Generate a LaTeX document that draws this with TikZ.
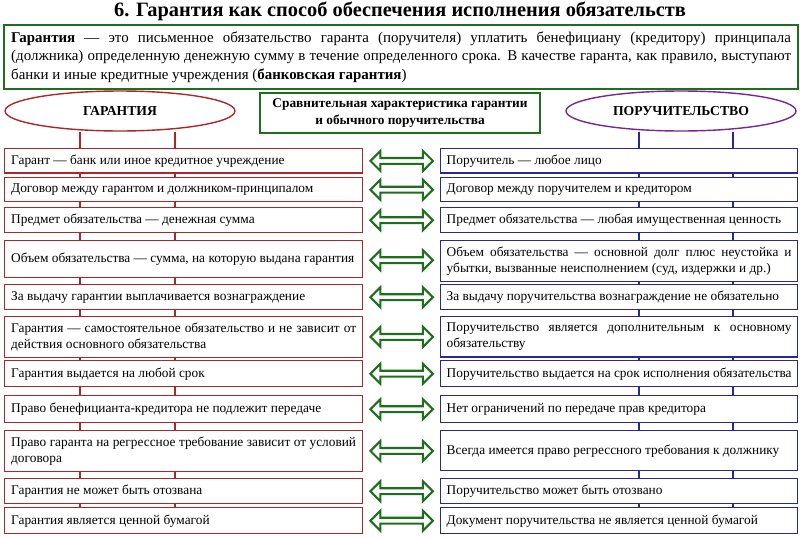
\documentclass[tikz,border=0pt]{standalone}
\usepackage{fontspec}
\setmainfont{Liberation Serif}
\usetikzlibrary{positioning, shapes.geometric, shapes.arrows, calc}
\definecolor{grn}{RGB}{30,110,30}
\definecolor{dred}{RGB}{170,40,40}
\definecolor{navy}{RGB}{40,40,150}
\definecolor{purp}{RGB}{120,40,140}
\tikzset{
  lbox/.style={draw=dred, thick, fill=white, anchor=north west, minimum width=7.16cm, text width=6.9cm, align=justify, font=\fontsize{7.6}{9.4}\selectfont, inner sep=0.12cm},
  rbox/.style={draw=navy, thick, fill=white, anchor=north west, minimum width=7.14cm, text width=6.9cm, align=justify, font=\fontsize{7.6}{9.4}\selectfont, inner sep=0.12cm},
  darr/.style={double arrow, draw=grn, very thick, fill=white, minimum height=1.25cm, minimum width=0.4cm, double arrow head extend=0.1cm, inner sep=0.02cm},
}
\begin{document}
\begin{tikzpicture}[x=0.02cm, y=-0.02cm]
  \useasboundingbox (0,0) rectangle (800,537);
  % заголовок
  \node[font=\fontsize{11.6}{13}\selectfont\bfseries] (title) at (400,11) {6. Гарантия как способ обеспечения исполнения обязательств};
  \node[draw=grn, line width=1.4pt, anchor=north west, minimum width=15.88cm, minimum height=1.28cm, text width=15.6cm, align=justify, font=\fontsize{8.5}{10.6}\selectfont, inner sep=0.12cm] (def) at (3,24)
    {\textbf{Гарантия} — это письменное обязательство гаранта (поручителя) уплатить бенефициану (кредитору) принципала (должника) определенную денежную сумму в течение определенного срока. В качестве гаранта, как правило, выступают банки и иные кредитные учреждения (\textbf{банковская гарантия})};
  % шапка
  \node[ellipse, draw=dred, thick, minimum width=4.6cm, minimum height=0.8cm, font=\fontsize{7.8}{9}\selectfont\bfseries] (gar) at (120,111) {ГАРАНТИЯ};
  \node[ellipse, draw=purp, thick, minimum width=4.6cm, minimum height=0.8cm, font=\fontsize{7.8}{9}\selectfont\bfseries] (por) at (681,111) {ПОРУЧИТЕЛЬСТВО};
  \node[draw=grn, line width=1.4pt, minimum width=5.6cm, minimum height=0.78cm, align=center, font=\fontsize{7.6}{9.2}\selectfont\bfseries] (cmp) at (400,113)
    {Сравнительная характеристика гарантии\\ и обычного поручительства};
  % линии связи
  \draw[dred, thick] ($(gar.south)+(-40,0)$) -- (80,510);
  \draw[dred, thick] ($(gar.south)+(55,0)$) -- (175,510);
  \draw[navy, thick] ($(por.south)+(-42,0)$) -- (639,510);
  \draw[navy, thick] ($(por.south)+(52,0)$) -- (733,510);
  % строки
  \foreach \i/\t/\h/\l/\r in {
    1/148/24/{Гарант — банк или иное кредитное учреждение}/{Поручитель — любое лицо},
    2/177/24/{Договор между гарантом и должником-принципалом}/{Договор между поручителем и кредитором},
    3/207/25/{Предмет обязательства — денежная сумма}/{Предмет обязательства — любая имущественная ценность},
    4/240/37/{Объем обязательства — сумма, на которую выдана гарантия}/{Объем обязательства — основной долг плюс неустойка и убытки, вызванные неисполнением (суд, издержки и др.)},
    5/284/25/{За выдачу гарантии выплачивается вознаграждение}/{За выдачу поручительства вознаграждение не обязательно},
    6/316/37/{Гарантия — самостоятельное обязательство и не зависит от действия основного обязательства}/{Поручительство является дополнительным к основному обязательству},
    7/360/26/{Гарантия выдается на любой срок}/{Поручительство выдается на срок исполнения обязательства},
    8/395/27/{Право бенефицианта-кредитора не подлежит передаче}/{Нет ограничений по передаче прав кредитора},
    9/430/40/{Право гаранта на регрессное требование зависит от условий договора}/{Всегда имеется право регрессного требования к должнику},
    10/478/25/{Гарантия не может быть отозвана}/{Поручительство может быть отозвано},
    11/507/26/{Гарантия является ценной бумагой}/{Документ поручительства не является ценной бумагой}} {
    \node[lbox, minimum height=\h*0.02cm] (L\i) at (4,\t) {\l};
    \node[rbox, minimum height=\h*0.02cm] (R\i) at (440,\t) {\r};
    \node[darr] (A\i) at ($(L\i.east)!0.5!(R\i.west)$) {};
  }
\end{tikzpicture}
\end{document}
